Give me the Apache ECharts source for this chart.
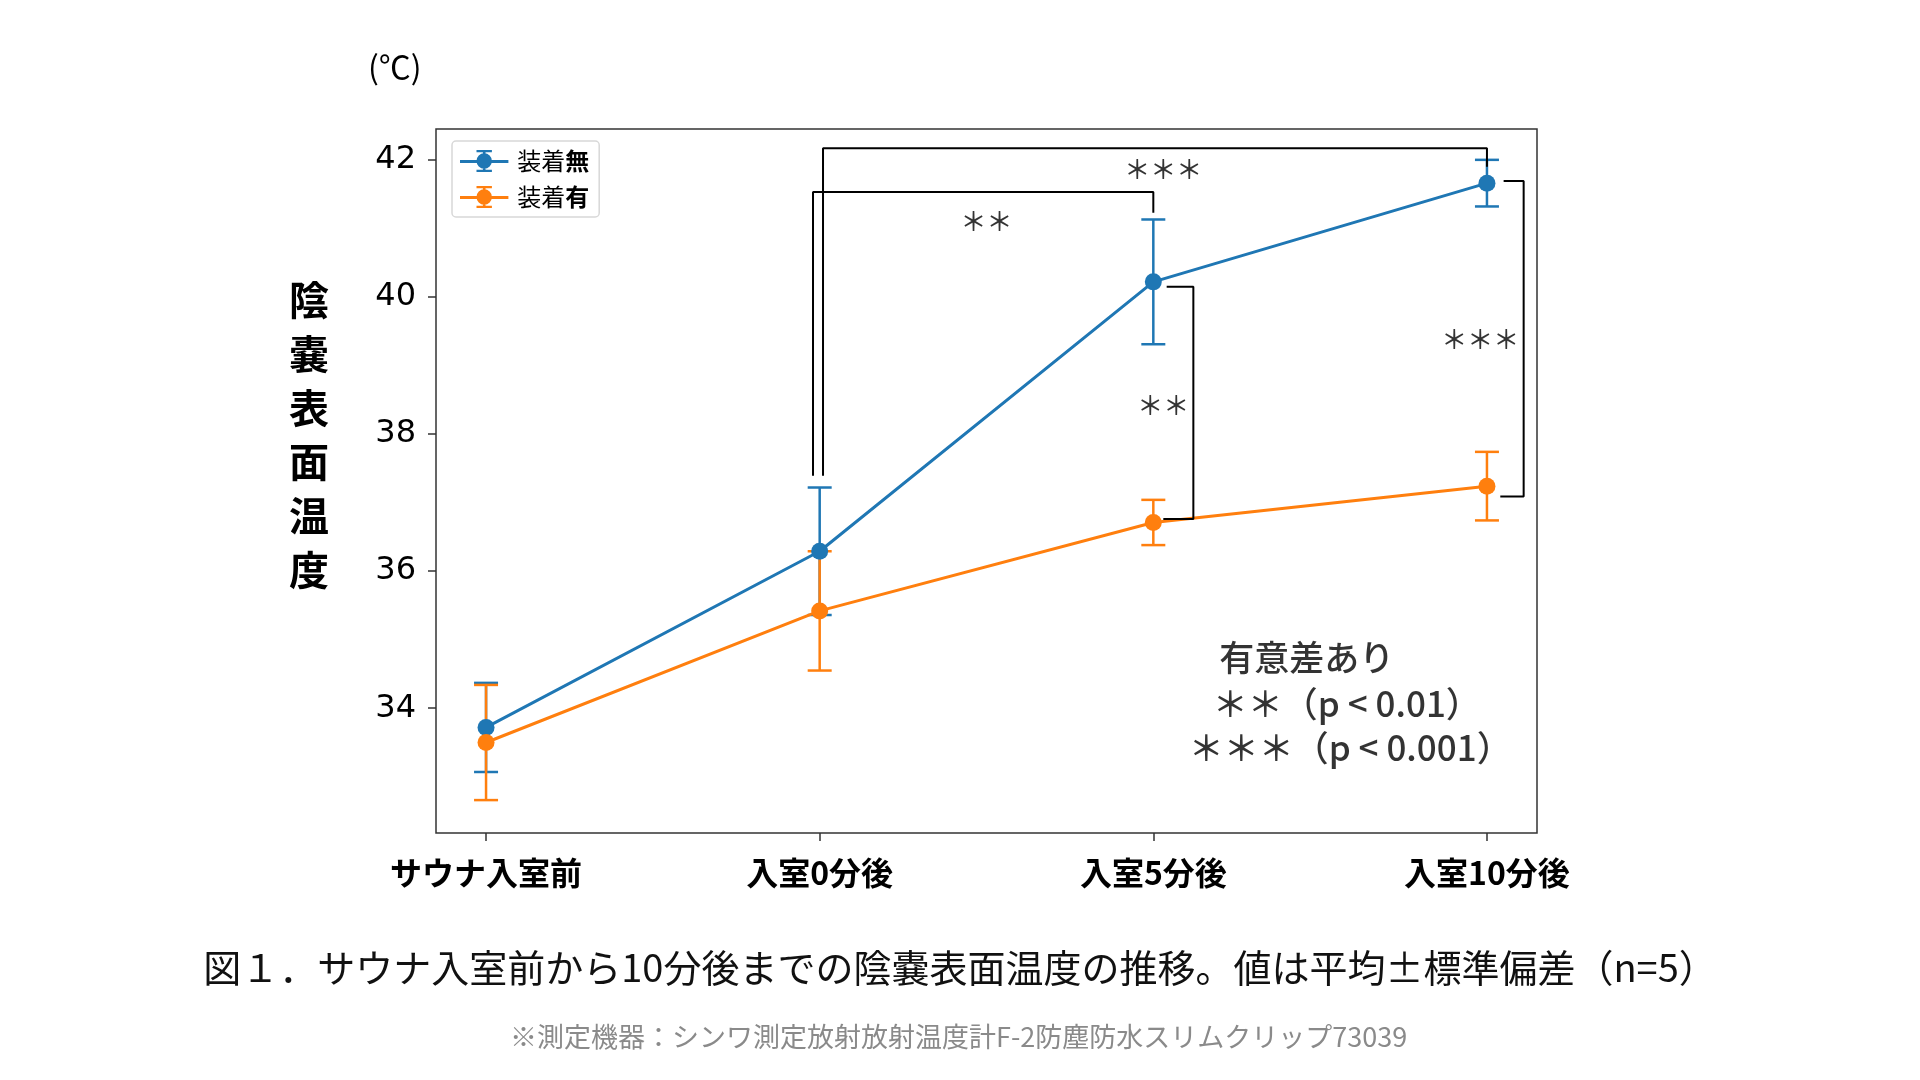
<!DOCTYPE html>
<html lang="ja">
<head>
<meta charset="UTF-8">
<title>陰嚢表面温度の推移</title>
<script src="https://cdn.jsdelivr.net/npm/echarts@6/dist/echarts.min.js"></script>
<style>
  html, body { margin: 0; padding: 0; background: #fff; }
  #chart { width: 1920px; height: 1080px; }
</style>
</head>
<body>
<div id="chart"></div>
<script>
// カテゴリと各系列の値
const categories = ['サウナ入室前', '入室0分後', '入室5分後', '入室10分後'];
const meanNone = [33.72, 36.29, 40.22, 41.66];   // 装着無
const sdNone   = [0.65, 0.93, 0.91, 0.34];
const meanWith = [33.50, 35.42, 36.71, 37.24];   // 装着有
const sdWith   = [0.84, 0.87, 0.33, 0.50];
const yTicks = [34, 36, 38, 40, 42];

// 有意差ブラケット（データ座標）
const bracket0to5  = [[0.98, 37.39], [0.98, 41.53], [2.0, 41.53], [2.0, 41.23]];
const bracket0to10 = [[1.01, 37.39], [1.01, 42.17], [3.0, 42.17], [3.0, 41.90]];
const bracketAt5   = [[2.04, 40.15], [2.12, 40.15], [2.12, 36.76], [2.03, 36.76]];
const bracketAt10  = [[3.05, 41.69], [3.11, 41.69], [3.11, 37.09], [3.04, 37.09]];

// 注記テキスト [x, y, 文字]
const starNotes = [
    [2.03, 41.87, '＊＊＊'],
    [1.50, 41.11, '＊＊'],
    [2.03, 38.42, '＊＊'],
    [2.98, 39.39, '＊＊＊']
];
const sigNotes = [
    [2.46, 34.73, '有意差あり'],
    [2.58, 34.07, '＊＊（p < 0.01）'],
    [2.59, 33.43, '＊＊＊（p < 0.001）']
];

const blue = '#1f77b4';
const orange = '#ff7f0e';
const jp = '"Noto Sans CJK JP", sans-serif';

function pointData(mean) {
    return mean.map(function (v, i) { return [i, v]; });
}
function errData(mean, sd) {
    return mean.map(function (v, i) { return [i, v - sd[i], v + sd[i]]; });
}

function renderErr(color) {
    return function (params, api) {
        const x = api.value(0);
        const lo = api.coord([x, api.value(1)]);
        const hi = api.coord([x, api.value(2)]);
        const cap = 12;
        const st = { stroke: color, lineWidth: 2.5 };
        return {
            type: 'group',
            children: [
                { type: 'line', shape: { x1: lo[0], y1: lo[1], x2: hi[0], y2: hi[1] }, style: st },
                { type: 'line', shape: { x1: lo[0] - cap, y1: lo[1], x2: lo[0] + cap, y2: lo[1] }, style: st },
                { type: 'line', shape: { x1: hi[0] - cap, y1: hi[1], x2: hi[0] + cap, y2: hi[1] }, style: st }
            ]
        };
    };
}

function bracketSeries(data) {
    return {
        type: 'line',
        data: data,
        symbol: 'none',
        silent: true,
        z: 5,
        lineStyle: { color: '#000', width: 2 },
        animation: false
    };
}

const legendIcon = 'path://M0,9.2h44v2.6H0z M20.8,1h2.4v18h-2.4z M15,0h14v2H15z M15,18h14v2H15z M29,10a7,7 0 1,1 -14,0a7,7 0 1,1 14,0z';

const myChart = echarts.init(document.getElementById('chart'));

const option = {
    animation: false,
    title: [
        {
            text: '(℃)', left: 363, top: 46,
            textStyle: { fontFamily: jp, fontSize: 32, fontWeight: 'normal', color: '#000' }
        },
        {
            // 縦書きの軸名
            text: '陰\n嚢\n表\n面\n温\n度', left: 289, top: 273, padding: 0,
            textStyle: { fontFamily: jp, fontSize: 40, fontWeight: 'bold', color: '#000', lineHeight: 54 }
        },
        {
            text: '図１．サウナ入室前から10分後までの陰嚢表面温度の推移。値は平均±標準偏差（n=5）',
            left: 'center', top: 944,
            textStyle: { fontFamily: jp, fontSize: 38, fontWeight: 'normal', color: '#111' }
        },
        {
            text: '※測定機器：シンワ測定放射放射温度計F-2防塵防水スリムクリップ73039',
            left: 505, top: 1018,
            textStyle: { fontFamily: jp, fontSize: 27, fontWeight: 'normal', color: '#8a8a8a' }
        }
    ],
    legend: {
        data: ['装着無', '装着有'],
        orient: 'vertical',
        left: 452, top: 141,
        padding: [8, 10, 8, 8],
        itemWidth: 56, itemHeight: 22,
        itemGap: 12,
        icon: legendIcon,
        backgroundColor: '#fff',
        borderColor: '#d8d8d8', borderWidth: 1.5, borderRadius: 4,
        formatter: function (name) {
            return '{a|' + name.slice(0, 2) + '}{b|' + name.slice(2) + '}';
        },
        textStyle: {
            rich: {
                a: { fontFamily: jp, fontSize: 24, color: '#000' },
                b: { fontFamily: jp, fontSize: 24, fontWeight: 'bold', color: '#000' }
            }
        }
    },
    grid: {
        left: 436, top: 129, right: 383, bottom: 247,
        show: true, borderColor: '#333', borderWidth: 1.5, backgroundColor: 'transparent'
    },
    xAxis: {
        type: 'value',
        min: -0.15, max: 3.15,
        axisLine: { show: false, onZero: false },
        splitLine: { show: false },
        axisTick: { show: true, customValues: [0, 1, 2, 3], length: 8, lineStyle: { color: '#333', width: 1.5 } },
        axisLabel: {
            customValues: [0, 1, 2, 3],
            margin: 24,
            fontFamily: jp, fontSize: 32, fontWeight: 'bold', color: '#000',
            formatter: function (v) { return categories[Math.round(v)]; }
        }
    },
    yAxis: {
        type: 'value',
        min: 32.18, max: 42.45,
        axisLine: { show: false, onZero: false },
        splitLine: { show: false },
        axisTick: { show: true, customValues: yTicks, length: 8, lineStyle: { color: '#333', width: 1.5 } },
        axisLabel: {
            customValues: yTicks,
            margin: 20,
            fontFamily: '"DejaVu Sans", sans-serif', fontSize: 32, color: '#000'
        }
    },
    series: [
        {
            name: '装着無',
            type: 'custom',
            renderItem: renderErr(blue),
            itemStyle: { color: blue },
            data: errData(meanNone, sdNone),
            z: 2,
            silent: true
        },
        {
            name: '装着無',
            type: 'line',
            data: pointData(meanNone),
            symbol: 'circle', symbolSize: 17,
            itemStyle: { color: blue },
            lineStyle: { color: blue, width: 3 },
            z: 3
        },
        {
            name: '装着有',
            type: 'custom',
            renderItem: renderErr(orange),
            itemStyle: { color: orange },
            data: errData(meanWith, sdWith),
            z: 2,
            silent: true
        },
        {
            name: '装着有',
            type: 'line',
            data: pointData(meanWith),
            symbol: 'circle', symbolSize: 17,
            itemStyle: { color: orange },
            lineStyle: { color: orange, width: 3 },
            z: 3
        },
        bracketSeries(bracket0to5),
        bracketSeries(bracket0to10),
        bracketSeries(bracketAt5),
        bracketSeries(bracketAt10),
        {
            type: 'scatter',
            data: starNotes,
            symbolSize: 0,
            silent: true,
            z: 6,
            label: {
                show: true, position: 'inside',
                formatter: function (p) { return p.value[2]; },
                fontFamily: jp, fontSize: 26, fontWeight: 500, color: '#000'
            }
        },
        {
            type: 'scatter',
            data: sigNotes,
            symbolSize: 0,
            silent: true,
            z: 6,
            label: {
                show: true, position: 'inside',
                formatter: function (p) { return p.value[2]; },
                fontFamily: jp, fontSize: 35, fontWeight: 500, color: '#000'
            }
        }
    ]
};

myChart.setOption(option);
</script>
</body>
</html>
